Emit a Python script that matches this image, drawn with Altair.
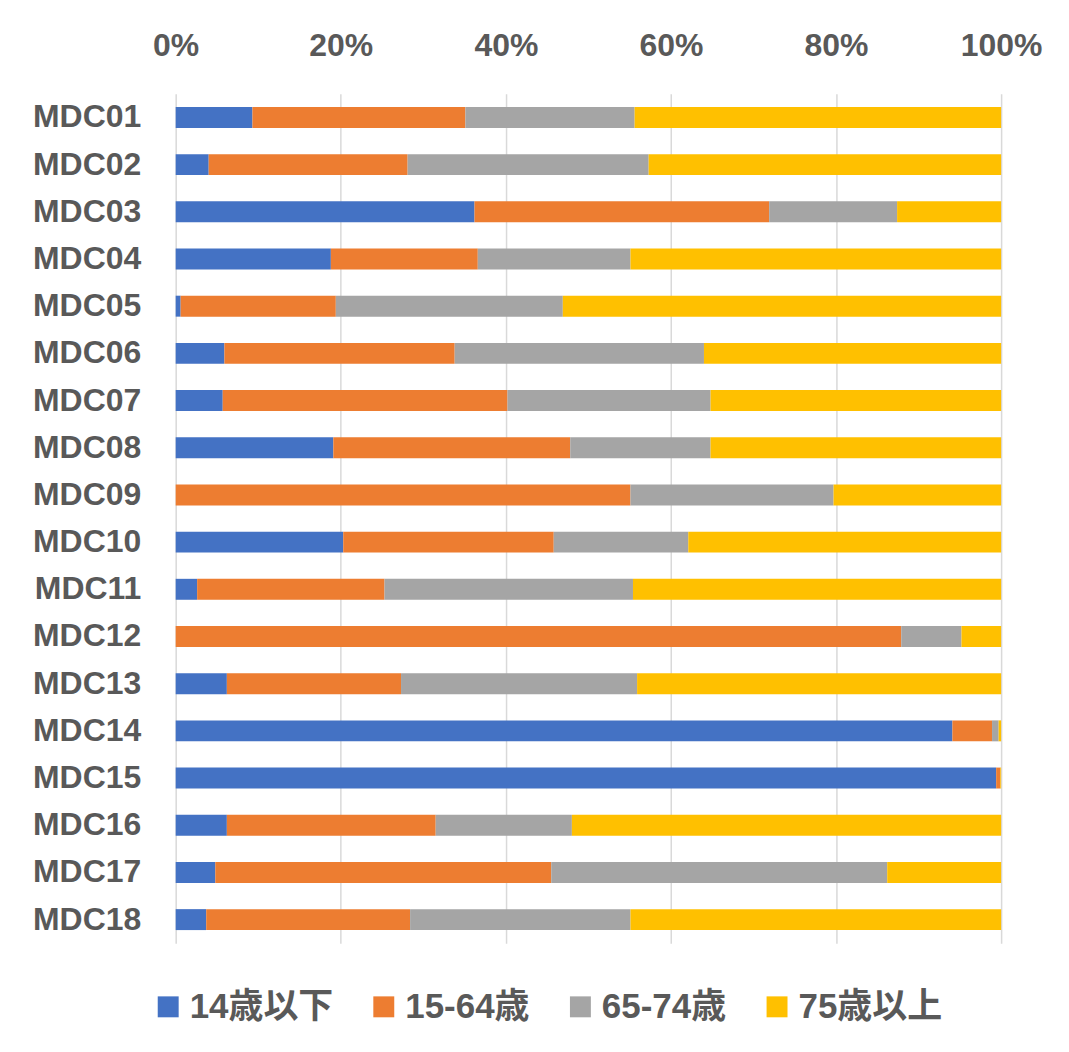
import altair as alt
import pandas as pd

categories = [f"MDC{i:02d}" for i in range(1, 19)]
groups = ["14歳以下", "15-64歳", "65-74歳", "75歳以上"]
colors = ["#4472C4", "#ED7D31", "#A5A5A5", "#FFC000"]

# percentage share of each age group per MDC
under14 = [9.3, 4.0, 36.2, 18.8, 0.6, 5.9, 5.7, 19.1, 0.0, 20.3, 2.6, 0.0, 6.2, 94.1, 99.4, 6.2, 4.8, 3.7]
age15_64 = [25.8, 24.1, 35.7, 17.8, 18.8, 27.9, 34.5, 28.7, 55.1, 25.5, 22.7, 87.9, 21.1, 4.8, 0.5, 25.3, 40.7, 24.7]
age65_74 = [20.5, 29.2, 15.5, 18.5, 27.5, 30.2, 24.6, 17.0, 24.6, 16.3, 30.1, 7.3, 28.6, 0.8, 0.0, 16.5, 40.7, 26.7]
age75up = [44.4, 42.7, 12.6, 44.9, 53.1, 36.0, 35.2, 35.2, 20.3, 37.9, 44.6, 4.8, 44.1, 0.3, 0.1, 52.0, 13.8, 44.9]

series = [under14, age15_64, age65_74, age75up]
rows = []
for gi, (g, vals) in enumerate(zip(groups, series)):
    for c, v in zip(categories, vals):
        rows.append({"mdc": c, "group": g, "value": v, "order": gi})
df = pd.DataFrame(rows)

FONT = "Liberation Sans, Noto Sans CJK JP"
TXT = "#595959"

chart = alt.Chart(df).mark_bar().encode(
    y=alt.Y("mdc:N", sort=categories,
            scale=alt.Scale(paddingInner=0.556, paddingOuter=0.278),
            axis=alt.Axis(title=None, domain=False, ticks=False, labelPadding=35,
                          labelFontSize=32, labelFontWeight="bold", labelColor=TXT,
                          labelFont=FONT)),
    x=alt.X("value:Q", stack="normalize",
            scale=alt.Scale(domain=[0, 1]),
            axis=alt.Axis(title=None, orient="top", format="%", values=[0, 0.2, 0.4, 0.6, 0.8, 1.0],
                          domain=False, ticks=False, tickSize=0, labelPadding=31,
                          labelFlush=False,
                          grid=True, gridColor="#d9d9d9", gridWidth=1.5,
                          labelFontSize=32, labelFontWeight="bold", labelColor=TXT,
                          labelFont=FONT)),
    color=alt.Color("group:N", sort=groups,
                    scale=alt.Scale(domain=groups, range=colors),
                    legend=alt.Legend(title=None, orient="none", direction="horizontal",
                                      legendX=-25, legendY=897,
                                      symbolType="square", symbolSize=440,
                                      symbolStrokeWidth=0, labelOffset=4,
                                      columnPadding=33, labelLimit=400,
                                      labelFontSize=35, labelFontWeight="bold",
                                      labelColor=TXT, labelFont=FONT)),
    order=alt.Order("order:Q"),
).properties(
    width=827, height=851,
    padding={"left": 168, "top": 85, "right": 60, "bottom": 100},
    autosize="none",
).configure_view(strokeWidth=0)

chart.save("out.html", embed_options={"renderer": "svg", "actions": False})
